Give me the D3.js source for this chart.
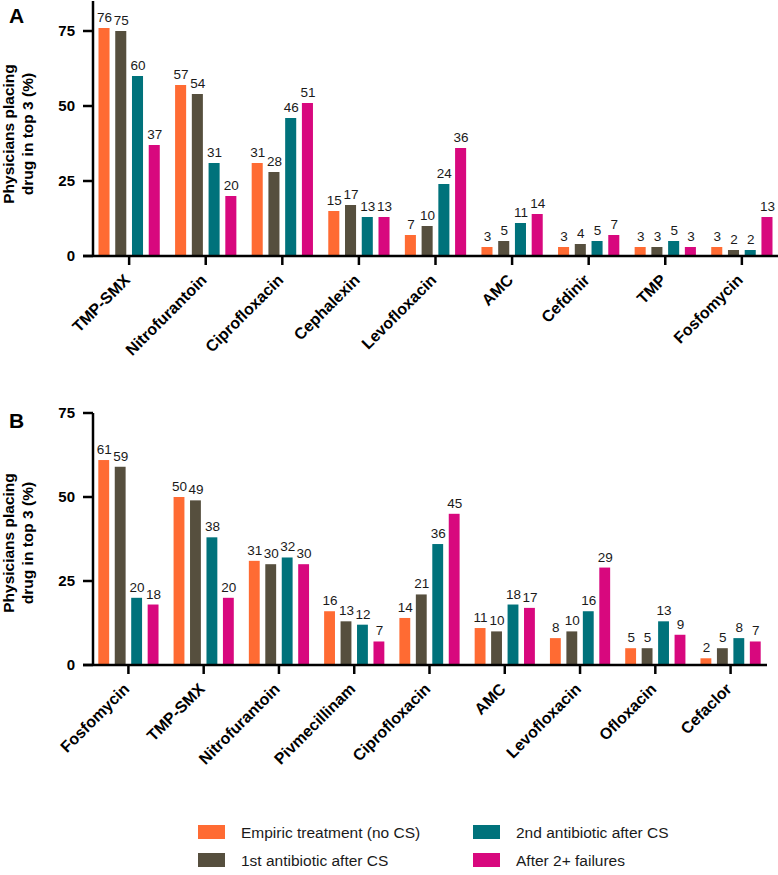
<!DOCTYPE html>
<html>
<head>
<meta charset="utf-8">
<script src="https://cdn.jsdelivr.net/npm/d3@7"></script>
<style>
html,body{margin:0;padding:0;background:#fff;}
svg{display:block;font-family:"Liberation Sans",Arial,Helvetica,sans-serif;}
</style>
</head>
<body>
<svg id="chart" width="778" height="875"></svg>
<script>
const seriesNames = ["Empiric treatment (no CS)", "1st antibiotic after CS", "2nd antibiotic after CS", "After 2+ failures"];
const seriesColors = ["#FF6B33", "#564F3E", "#00727B", "#D8087E"];

const categoriesA = ["TMP-SMX", "Nitrofurantoin", "Ciprofloxacin", "Cephalexin", "Levofloxacin", "AMC", "Cefdinir", "TMP", "Fosfomycin"];
const empiricA = [76, 57, 31, 15, 7, 3, 3, 3, 3];
const firstA   = [75, 54, 28, 17, 10, 5, 4, 3, 2];
const secondA  = [60, 31, 46, 13, 24, 11, 5, 5, 2];
const failA    = [37, 20, 51, 13, 36, 14, 7, 3, 13];

const categoriesB = ["Fosfomycin", "TMP-SMX", "Nitrofurantoin", "Pivmecillinam", "Ciprofloxacin", "AMC", "Levofloxacin", "Ofloxacin", "Cefaclor"];
const empiricB = [61, 50, 31, 16, 14, 11, 8, 5, 2];
const firstB   = [59, 49, 30, 13, 21, 10, 10, 5, 5];
const secondB  = [20, 38, 32, 12, 36, 18, 16, 13, 8];
const failB    = [18, 20, 30, 7, 45, 17, 29, 9, 7];

const yTicks = [0, 25, 50, 75];

const svg = d3.select("#chart");

function panel(cfg) {
  const {letter, cats, series, yMax, yTop, yBottom, bandStart, bandEnd, axisEnd, letterY, titleY} = cfg;
  const g = svg.append("g");
  const axisX = 93;
  const y = d3.scaleLinear().domain([0, yMax]).range([yBottom, yTop]);
  const x0 = d3.scaleBand().domain(cats).range([bandStart, bandEnd]).paddingInner(0.2).paddingOuter(0);
  const x1 = d3.scaleBand().domain(d3.range(4)).range([0, x0.bandwidth()]).paddingInner(0.34).paddingOuter(0);

  // bars
  cats.forEach((c, i) => {
    series.forEach((s, k) => {
      const v = s[i];
      const bx = x0(c) + x1(k);
      g.append("rect")
        .attr("x", bx).attr("y", y(v))
        .attr("width", x1.bandwidth()).attr("height", y(0) - y(v))
        .attr("fill", seriesColors[k]);
      g.append("text")
        .attr("x", bx + x1.bandwidth() / 2 + 0.5)
        .attr("y", y(v) - 6)
        .attr("text-anchor", "middle")
        .attr("font-size", "13.5px")
        .attr("fill", "#1a1a1a")
        .text(v);
    });
  });

  // y axis
  g.append("line").attr("x1", axisX).attr("x2", axisX).attr("y1", yTop).attr("y2", yBottom + 1)
    .attr("stroke", "#000").attr("stroke-width", 2.5);
  yTicks.forEach(t => {
    g.append("line").attr("x1", axisX - 10).attr("x2", axisX).attr("y1", y(t)).attr("y2", y(t))
      .attr("stroke", "#000").attr("stroke-width", 2.5);
    g.append("text").attr("x", axisX - 18).attr("y", y(t)).attr("dy", "0.36em")
      .attr("text-anchor", "end").attr("font-size", "15px").attr("font-weight", "bold").text(t);
  });

  // x axis
  g.append("line").attr("x1", axisX - 10).attr("x2", axisEnd).attr("y1", yBottom).attr("y2", yBottom)
    .attr("stroke", "#000").attr("stroke-width", 2.5);
  cats.forEach(c => {
    const cx = x0(c) + x0.bandwidth() / 2;
    g.append("line").attr("x1", cx).attr("x2", cx).attr("y1", yBottom).attr("y2", yBottom + 9)
      .attr("stroke", "#000").attr("stroke-width", 2.5);
    g.append("text")
      .attr("transform", `translate(${cx + 2},${yBottom + 25}) rotate(-45)`)
      .attr("text-anchor", "end").attr("font-size", "16px").attr("font-weight", "bold")
      .text(c);
  });

  // y title
  const t = g.append("text").attr("transform", `translate(0,${titleY}) rotate(-90)`)
    .attr("text-anchor", "middle").attr("font-size", "15.5px").attr("font-weight", "bold");
  t.append("tspan").attr("x", 0).attr("y", 14).text("Physicians placing");
  t.append("tspan").attr("x", 0).attr("y", 33).text("drug in top 3 (%)");

  // panel letter
  g.append("text").attr("x", 9).attr("y", letterY).attr("font-size", "21px").attr("font-weight", "bold").text(letter);
}

panel({
  letter: "A", cats: categoriesA, series: [empiricA, firstA, secondA, failA],
  yMax: 85, yTop: 1, yBottom: 256, bandStart: 98.5, bandEnd: 772.5, axisEnd: 778,
  letterY: 23, titleY: 134
});

panel({
  letter: "B", cats: categoriesB, series: [empiricB, firstB, secondB, failB],
  yMax: 75, yTop: 413, yBottom: 665, bandStart: 98.3, bandEnd: 760.7, axisEnd: 767,
  letterY: 428, titleY: 543
});

// legend
const legendPos = [[198, 825], [198, 853], [473, 825], [473, 853]];
const leg = svg.append("g");
seriesNames.forEach((n, k) => {
  const [lx, ly] = legendPos[k];
  leg.append("rect").attr("x", lx).attr("y", ly).attr("width", 27).attr("height", 14).attr("fill", seriesColors[k]);
  leg.append("text").attr("x", lx + 43).attr("y", ly + 7).attr("dy", "0.36em")
    .attr("font-size", "15.5px").attr("fill", "#1a1a1a").text(n);
});
</script>
</body>
</html>
